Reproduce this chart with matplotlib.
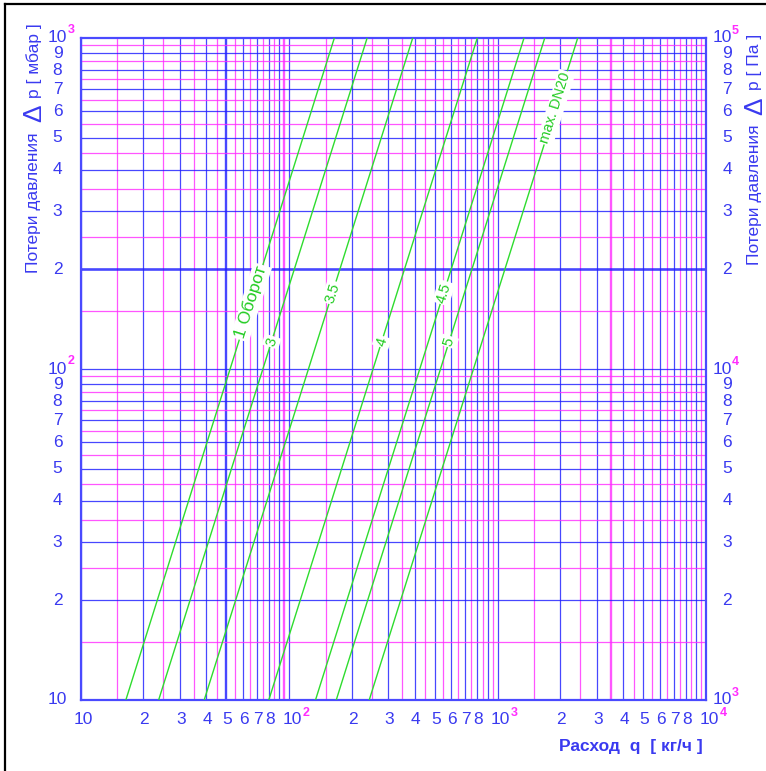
import numpy as np
import matplotlib
matplotlib.use("Agg")
import matplotlib.pyplot as plt
from matplotlib.lines import Line2D

# ---------------- data ----------------
line_labels = ["1 Оборот", "3", "3.5", "4", "4.5", "5", "max. DN20"]
q_at_10mbar = [16.5, 23.7, 39.2, 80.0, 134.0, 168.5, 242.5]      # kg/h at 10 mbar
q_at_1000mbar = [165.0, 237.0, 392.0, 800.0, 1340.0, 1685.0, 2425.0]  # kg/h at 1000 mbar
dp_ends = [10, 1000]
label_dp = [159, 121, 170, 121, 170, 121, 615]
label_fs = [12.5, 10.5, 10.5, 10.5, 10.5, 10.5, 10.5]

x_decades = [10, 100, 1000, 10000]
y_decades = [10, 100, 1000]
y2_decades = [1000, 10000, 100000]
x_digit_labels = [2, 3, 4, 5, 6, 7, 8]
y_digit_labels = [2, 3, 4, 5, 6, 7, 8, 9]

BLUE = "#1f1fff"
LBLUE = "#4a4aff"
MAG = "#ff2cff"
GREEN = "#2edc2e"
TXTBLUE = "#3a3af0"

W, H = 766, 771
fig = plt.figure(figsize=(W / 100, H / 100), dpi=100)
ax = fig.add_axes([80.5 / W, (H - 700) / H, 625.5 / W, 662 / H])
ax.set_xscale("log")
ax.set_yscale("log")
ax.set_xlim(10, 1e4)
ax.set_ylim(10, 1e3)
ax.tick_params(which="both", length=0, labelbottom=False, labelleft=False)
ax.xaxis.set_minor_formatter(plt.NullFormatter())
ax.yaxis.set_minor_formatter(plt.NullFormatter())
for s in ax.spines.values():
    s.set_color(LBLUE)
    s.set_linewidth(1.6)

# ---------------- grid ----------------
for d in x_decades[:-1]:
    for m in range(1, 10):
        v = m * d
        lw = 1.7 if v == 50 else 0.9
        ax.axvline(v, color=BLUE, lw=lw, alpha=0.82, zorder=1)
        h = (m + 0.5) * d
        lwm = 1.7 if h in (95, 3500) else 0.9
        ax.axvline(h, color=MAG, lw=lwm, alpha=0.8, zorder=1)
for d in y_decades[:-1]:
    for m in range(1, 10):
        v = m * d
        lw = 1.9 if v == 200 else 0.9
        ax.axhline(v, color=BLUE, lw=lw, alpha=0.82, zorder=1)
        ax.axhline((m + 0.5) * d, color=MAG, lw=0.9, alpha=0.8, zorder=1)

# ---------------- characteristic lines ----------------
for i, lab in enumerate(line_labels):
    qs = [q_at_10mbar[i], q_at_1000mbar[i]]
    ax.plot(qs, dp_ends, color=GREEN, lw=1.0, zorder=3, solid_capstyle="butt")
    p0 = ax.transData.transform((qs[0], dp_ends[0]))
    p1 = ax.transData.transform((qs[1], dp_ends[1]))
    ang = np.degrees(np.arctan2(p1[1] - p0[1], p1[0] - p0[0]))
    qlab = q_at_10mbar[i] * np.sqrt(label_dp[i] / dp_ends[0])
    ax.text(qlab, label_dp[i], lab, rotation=ang, rotation_mode="anchor",
            ha="center", va="center", color="#22cc22", fontsize=label_fs[i],
            family="Liberation Sans", zorder=4,
            bbox=dict(facecolor="white", edgecolor="none", pad=1.2))

# ---------------- tick labels ----------------
tfs = 12.5
sfs = 9
fam = "Liberation Sans"
# bottom
for d in x_decades:
    e = int(round(np.log10(d)))
    ax.annotate("10", xy=(d, 0), xycoords=("data", "axes fraction"),
                xytext=(3, -20), textcoords="offset pixels", ha="center", va="center",
                color=TXTBLUE, fontsize=tfs, family=fam, annotation_clip=False)
    if e > 1:
        ax.annotate(str(e), xy=(d, 0), xycoords=("data", "axes fraction"),
                    xytext=(17, -13), textcoords="offset pixels", ha="center", va="center",
                    color=MAG, fontsize=sfs, family=fam, fontweight="bold",
                    annotation_clip=False)
    if d < 10000:
        for m in x_digit_labels:
            ax.annotate(str(m), xy=(m * d, 0), xycoords=("data", "axes fraction"),
                        xytext=(1, -20), textcoords="offset pixels", ha="center", va="center",
                        color=TXTBLUE, fontsize=tfs, family=fam, annotation_clip=False)
# left
for d in y_decades:
    e = int(round(np.log10(d)))
    ax.annotate("10", xy=(0, d), xycoords=("axes fraction", "data"),
                xytext=(-23, 0), textcoords="offset pixels", ha="center", va="center",
                color=TXTBLUE, fontsize=tfs, family=fam, annotation_clip=False)
    if e > 1:
        ax.annotate(str(e), xy=(0, d), xycoords=("axes fraction", "data"),
                    xytext=(-9, 8), textcoords="offset pixels", ha="center", va="center",
                    color=MAG, fontsize=sfs, family=fam, fontweight="bold",
                    annotation_clip=False)
    if d < 1000:
        for m in y_digit_labels:
            ax.annotate(str(m), xy=(0, m * d), xycoords=("axes fraction", "data"),
                        xytext=(-23, 0), textcoords="offset pixels", ha="center", va="center",
                        color=TXTBLUE, fontsize=tfs, family=fam, annotation_clip=False)

# right (Pa)
ax2 = ax.twinx()
ax2.set_yscale("log")
ax2.set_ylim(1e3, 1e5)
ax2.tick_params(which="both", length=0, labelright=False)
ax2.yaxis.set_minor_formatter(plt.NullFormatter())
for s in ax2.spines.values():
    s.set_visible(False)
for d in y2_decades:
    e = int(round(np.log10(d)))
    ax2.annotate("10", xy=(1, d), xycoords=("axes fraction", "data"),
                 xytext=(16, 0), textcoords="offset pixels", ha="center", va="center",
                 color=TXTBLUE, fontsize=tfs, family=fam, annotation_clip=False)
    ax2.annotate(str(e), xy=(1, d), xycoords=("axes fraction", "data"),
                 xytext=(29, 7), textcoords="offset pixels", ha="center", va="center",
                 color=MAG, fontsize=sfs, family=fam, fontweight="bold",
                 annotation_clip=False)
    if d < 100000:
        for m in y_digit_labels:
            ax2.annotate(str(m), xy=(1, m * d), xycoords=("axes fraction", "data"),
                         xytext=(21, 0), textcoords="offset pixels", ha="center", va="center",
                         color=TXTBLUE, fontsize=tfs, family=fam, annotation_clip=False)

# ---------------- axis titles ----------------
lfs = 12.5
def vlabel(x, y_top_first, y_delta, y_rest_bottom, first, rest):
    fig.text(x / W, 1 - y_top_first / H, first, rotation=90, ha="center", va="top",
             color=TXTBLUE, fontsize=lfs, family=fam)
    fig.text(x / W, 1 - y_delta / H, "Δ", rotation=90, ha="center", va="center",
             color=TXTBLUE, fontsize=19, family=fam)
    fig.text(x / W, 1 - y_rest_bottom / H, rest, rotation=90, ha="center", va="bottom",
             color=TXTBLUE, fontsize=lfs, family=fam)

vlabel(34, 132, 113, 98, "Потери давления", "p [ мбар ]")
vlabel(755, 124, 106, 90, "Потери давления", "p [ Па ]")

fig.text(703 / W, 1 - 746 / H, "Расход  q  [ кг/ч ]", ha="right", va="center",
         color=TXTBLUE, fontsize=12.5, family=fam, fontweight="bold")

# outer frame (partially visible)
fig.add_artist(Line2D([4.5 / W, 4.5 / W], [0, 1 - 4 / H], color="black", lw=1.6,
                      transform=fig.transFigure))
fig.add_artist(Line2D([4.5 / W, 1], [1 - 4 / H, 1 - 4 / H], color="black", lw=1.6,
                      transform=fig.transFigure))

fig.savefig("out.png", dpi=100)
